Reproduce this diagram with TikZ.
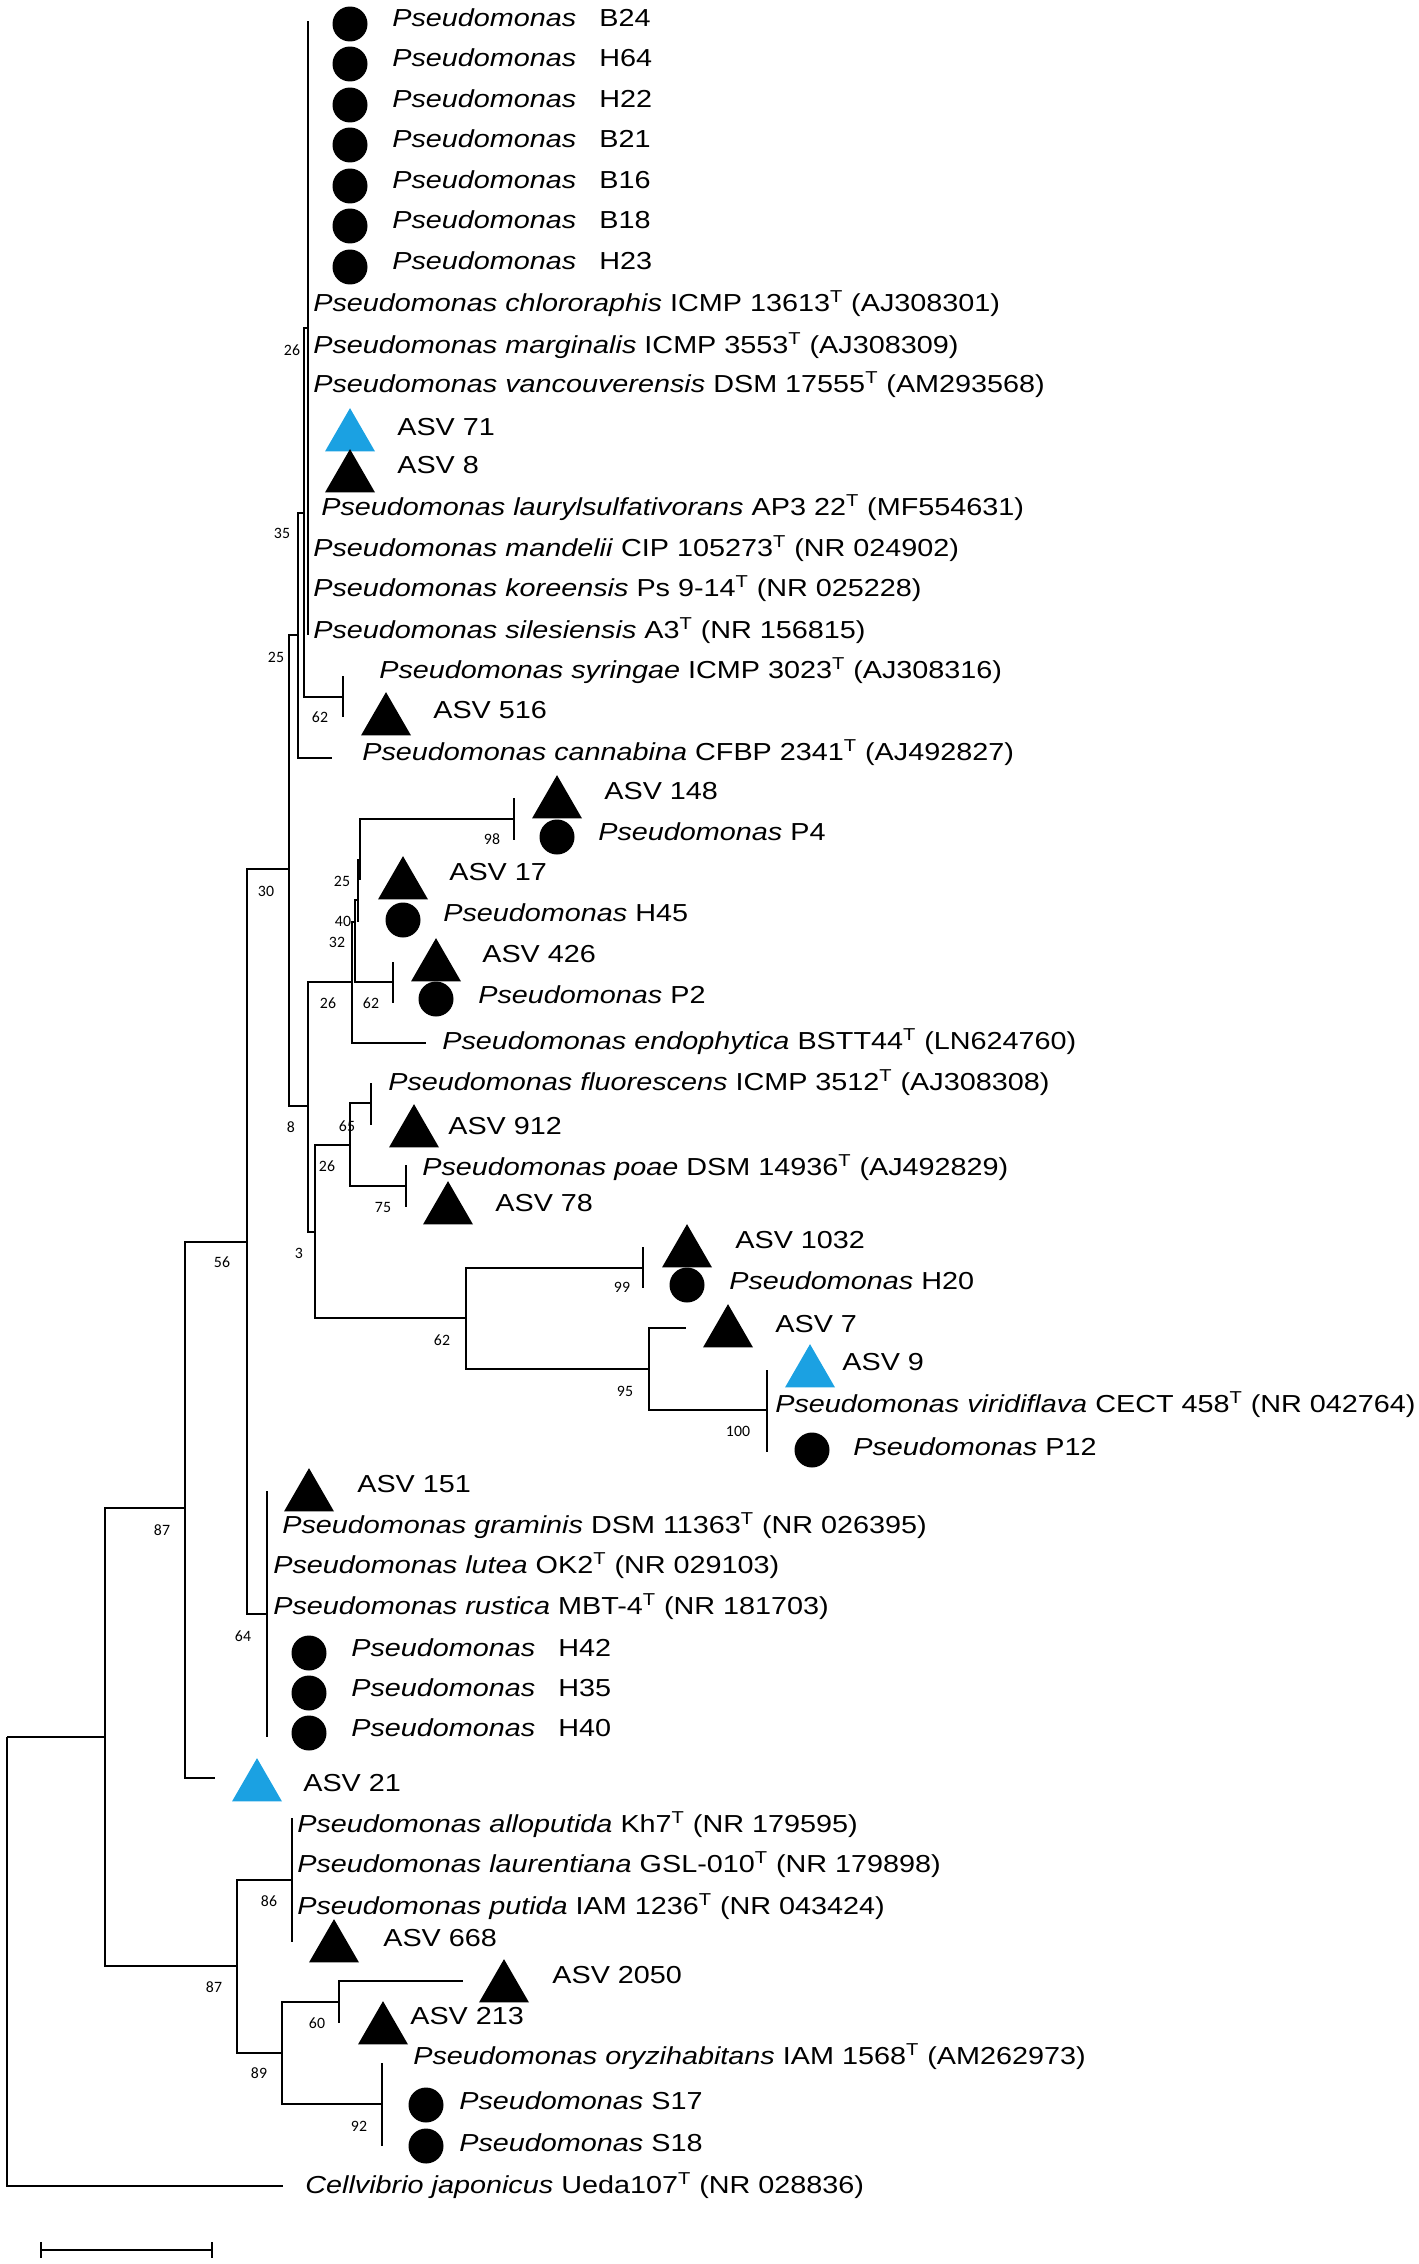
\documentclass[tikz,border=0pt]{standalone}
\usepackage{fontspec}
\setmainfont[FakeStretch=1.17]{Liberation Sans}
\newfontfamily\bootfont{Carlito}
\usetikzlibrary{positioning,shapes.geometric}
\definecolor{asvblue}{RGB}{27,161,226}
\newcommand{\Ps}{\textit{Pseudomonas}}
\newcommand{\species}[1]{\textit{Pseudomonas #1}}
\newcommand{\tp}{\textsuperscript{T}}

\begin{document}
\begin{tikzpicture}
[x=0.02cm, y=-0.02cm,
% branch style is used for every line of the tree
branch/.style={line width=1.1pt},
% taxon style is used for the names of the leaves
taxon/.style={anchor=mid west, inner sep=0pt, yshift=-0.08cm, font=\fontsize{14}{16}\selectfont},
% boot style is used for the bootstrap values
boot/.style={inner sep=0pt, font=\bootfont\fontsize{9}{10}\selectfont},
% isolate and asv styles are used for the markers
isolate/.style={circle, fill=black, minimum size=0.7cm, inner sep=0pt},
asv/.style={regular polygon, regular polygon sides=3, fill=black, minimum size=1.155cm, inner sep=0pt},
asvnew/.style={asv, fill=asvblue}
]
\useasboundingbox (0,0) rectangle (1418,2264);

% Internal nodes
\coordinate (nRoot) at (7,1737);
\coordinate (nIn) at (105,1737);
\coordinate (n87a) at (185,1508);
\coordinate (n87b) at (237,1966);
\coordinate (n56) at (247,1242);
\coordinate (n64) at (267,1614);
\coordinate (n30) at (289,869);
\coordinate (n25a) at (298,635);
\coordinate (n35) at (304,513);
\coordinate (n26a) at (308,328);
\coordinate (n62a) at (343,697);
\coordinate (n8) at (308,1106);
\coordinate (n26b) at (352,982);
\coordinate (n32) at (355,922);
\coordinate (n40) at (358,900);
\coordinate (n25b) at (360,860);
\coordinate (n98) at (514,819);
\coordinate (n62b) at (393,982);
\coordinate (n3) at (315,1232);
\coordinate (n26c) at (350,1145);
\coordinate (n65) at (371,1103);
\coordinate (n75) at (406,1186);
\coordinate (n62c) at (466,1318);
\coordinate (n99) at (643,1268);
\coordinate (n95) at (649,1369);
\coordinate (n100) at (767,1410);
\coordinate (n86) at (292,1880);
\coordinate (n89) at (282,2053);
\coordinate (n60) at (339,2002);
\coordinate (n92) at (382,2104);

% Ends of the leaf branches
\coordinate (eCell) at (283,2186);
\coordinate (eAsv21) at (215,1778);
\coordinate (e64t) at (267,1491);
\coordinate (e64b) at (267,1737);
\coordinate (eCann) at (332,758);
\coordinate (e26t) at (308,21);
\coordinate (e26b) at (308,635);
\coordinate (e62at) at (343,676);
\coordinate (e62ab) at (343,717);
\coordinate (eEndo) at (426,1043);
\coordinate (e40b) at (358,922);
\coordinate (e25b) at (360,880);
\coordinate (e98t) at (514,798);
\coordinate (e98b) at (514,840);
\coordinate (e62bt) at (393,962);
\coordinate (e62bb) at (393,1003);
\coordinate (e65t) at (371,1083);
\coordinate (e65b) at (371,1125);
\coordinate (e75t) at (406,1165);
\coordinate (e75b) at (406,1207);
\coordinate (e99t) at (643,1247);
\coordinate (e99b) at (643,1288);
\coordinate (eAsv7) at (686,1328);
\coordinate (e100t) at (767,1370);
\coordinate (e100b) at (767,1452);
\coordinate (e86t) at (292,1818);
\coordinate (e86b) at (292,1942);
\coordinate (eAsv2050) at (463,1981);
\coordinate (e60b) at (339,2023);
\coordinate (e92t) at (382,2063);
\coordinate (e92b) at (382,2146);

% Draw branches
\foreach \p/\c in {nRoot/nIn, nRoot/eCell, nIn/n87a, nIn/n87b, n87a/n56, n87a/eAsv21,
  n56/n30, n56/n64, n64/e64t, n64/e64b, n30/n25a, n30/n8, n25a/n35, n25a/eCann,
  n35/n26a, n35/n62a, n26a/e26t, n26a/e26b, n62a/e62at, n62a/e62ab,
  n8/n26b, n8/n3, n26b/n32, n26b/eEndo, n32/n40, n32/n62b, n40/n25b, n40/e40b,
  n25b/n98, n25b/e25b, n98/e98t, n98/e98b, n62b/e62bt, n62b/e62bb,
  n3/n26c, n3/n62c, n26c/n65, n26c/n75, n65/e65t, n65/e65b, n75/e75t, n75/e75b,
  n62c/n99, n62c/n95, n99/e99t, n99/e99b, n95/eAsv7, n95/n100, n100/e100t, n100/e100b,
  n87b/n86, n87b/n89, n86/e86t, n86/e86b, n89/n60, n89/n92, n60/eAsv2050, n60/e60b,
  n92/e92t, n92/e92b}
  \draw[branch] (\p) |- (\c);

% Bootstrap values
\node[boot] (b26a) at (292,350) {26};
\node[boot] (b35) at (282,533) {35};
\node[boot] (b25a) at (276,657) {25};
\node[boot] (b62a) at (320,717) {62};
\node[boot] (b30) at (266,891) {30};
\node[boot] (b98) at (492,839) {98};
\node[boot] (b25b) at (342,881) {25};
\node[boot] (b40) at (343,921) {40};
\node[boot] (b32) at (337,942) {32};
\node[boot] (b26b) at (328,1003) {26};
\node[boot] (b62b) at (371,1003) {62};
\node[boot] (b8) at (291,1127) {8};
\node[boot] (b65) at (347,1126) {65};
\node[boot] (b26c) at (327,1166) {26};
\node[boot] (b75) at (383,1207) {75};
\node[boot] (b3) at (299,1253) {3};
\node[boot] (b56) at (222,1262) {56};
\node[boot] (b99) at (622,1287) {99};
\node[boot] (b62c) at (442,1340) {62};
\node[boot] (b95) at (625,1391) {95};
\node[boot] (b100) at (738,1431) {100};
\node[boot] (b87a) at (162,1530) {87};
\node[boot] (b64) at (243,1636) {64};
\node[boot] (b86) at (269,1901) {86};
\node[boot] (b87b) at (214,1987) {87};
\node[boot] (b60) at (317,2023) {60};
\node[boot] (b89) at (259,2073) {89};
\node[boot] (b92) at (359,2126) {92};

% Isolates at the top
\foreach \y/\id in {18/B24, 58/H64, 99/H22, 139/B21, 180/B16, 220/B18, 261/H23}{
  \node[isolate] (m\id) at (350,\y+6) {};
  \node[taxon] (t\id) at (392,\y) {\makebox[4.14cm][l]{\Ps}\id};
}
\node[taxon] (tChloro) at (313,303) {\species{chlororaphis} ICMP 13613\tp{} (AJ308301)};
\node[taxon] (tMargi) at (313,345) {\species{marginalis} ICMP 3553\tp{} (AJ308309)};
\node[taxon] (tVanc) at (313,384) {\species{vancouverensis} DSM 17555\tp{} (AM293568)};
\node[asvnew] (mAsv71) at (350,437) {};
\node[taxon] (tAsv71) at (397,427) {ASV 71};
\node[asv] (mAsv8) at (350,478) {};
\node[taxon] (tAsv8) at (397,465) {ASV 8};
\node[taxon] (tLaury) at (321,507) {\species{laurylsulfativorans} AP3 22\tp{} (MF554631)};
\node[taxon] (tMand) at (313,548) {\species{mandelii} CIP 105273\tp{} (NR 024902)};
\node[taxon] (tKore) at (313,588) {\species{koreensis} Ps 9-14\tp{} (NR 025228)};
\node[taxon] (tSiles) at (313,630) {\species{silesiensis} A3\tp{} (NR 156815)};
\node[taxon] (tSyr) at (379,670) {\species{syringae} ICMP 3023\tp{} (AJ308316)};
\node[asv] (mAsv516) at (386,721) {};
\node[taxon] (tAsv516) at (433,710) {ASV 516};
\node[taxon] (tCann) at (362,752) {\species{cannabina} CFBP 2341\tp{} (AJ492827)};

% Middle part
\node[asv] (mAsv148) at (557,804) {};
\node[taxon] (tAsv148) at (604,791) {ASV 148};
\node[isolate] (mP4) at (557,837) {};
\node[taxon] (tP4) at (598,832) {\Ps{} P4};
\node[asv] (mAsv17) at (403,885) {};
\node[taxon] (tAsv17) at (449,872) {ASV 17};
\node[isolate] (mH45) at (403,920) {};
\node[taxon] (tH45) at (443,913) {\Ps{} H45};
\node[asv] (mAsv426) at (436,967) {};
\node[taxon] (tAsv426) at (482,954) {ASV 426};
\node[isolate] (mP2) at (436,999) {};
\node[taxon] (tP2) at (478,995) {\Ps{} P2};
\node[taxon] (tEndo) at (442,1041) {\species{endophytica} BSTT44\tp{} (LN624760)};
\node[taxon] (tFluo) at (388,1082) {\species{fluorescens} ICMP 3512\tp{} (AJ308308)};
\node[asv] (mAsv912) at (414,1133) {};
\node[taxon] (tAsv912) at (448,1126) {ASV 912};
\node[taxon] (tPoae) at (422,1167) {\species{poae} DSM 14936\tp{} (AJ492829)};
\node[asv] (mAsv78) at (448,1210) {};
\node[taxon] (tAsv78) at (495,1203) {ASV 78};
\node[asv] (mAsv1032) at (687,1253) {};
\node[taxon] (tAsv1032) at (735,1240) {ASV 1032};
\node[isolate] (mH20) at (687,1285) {};
\node[taxon] (tH20) at (729,1281) {\Ps{} H20};
\node[asv] (mAsv7) at (728,1333) {};
\node[taxon] (tAsv7) at (775,1324) {ASV 7};
\node[asvnew] (mAsv9) at (810,1373) {};
\node[taxon] (tAsv9) at (842,1362) {ASV 9};
\node[taxon] (tViri) at (775,1404) {\species{viridiflava} CECT 458\tp{} (NR 042764)};
\node[isolate] (mP12) at (812,1450) {};
\node[taxon] (tP12) at (853,1447) {\Ps{} P12};

% Lower part
\node[asv] (mAsv151) at (309,1497) {};
\node[taxon] (tAsv151) at (357,1484) {ASV 151};
\node[taxon] (tGram) at (282,1525) {\species{graminis} DSM 11363\tp{} (NR 026395)};
\node[taxon] (tLutea) at (273,1565) {\species{lutea} OK2\tp{} (NR 029103)};
\node[taxon] (tRust) at (273,1606) {\species{rustica} MBT-4\tp{} (NR 181703)};
\foreach \y/\id in {1648/H42, 1688/H35, 1728/H40}{
  \node[isolate] (m\id) at (309,\y+5) {};
  \node[taxon] (t\id) at (351,\y) {\makebox[4.14cm][l]{\Ps}\id};
}
\node[asvnew] (mAsv21) at (257,1787) {};
\node[taxon] (tAsv21) at (303,1783) {ASV 21};
\node[taxon] (tAllo) at (297,1824) {\species{alloputida} Kh7\tp{} (NR 179595)};
\node[taxon] (tLaur) at (297,1864) {\species{laurentiana} GSL-010\tp{} (NR 179898)};
\node[taxon] (tPut) at (297,1906) {\species{putida} IAM 1236\tp{} (NR 043424)};
\node[asv] (mAsv668) at (334,1948) {};
\node[taxon] (tAsv668) at (383,1938) {ASV 668};
\node[asv] (mAsv2050) at (504,1988) {};
\node[taxon] (tAsv2050) at (552,1975) {ASV 2050};
\node[asv] (mAsv213) at (383,2030) {};
\node[taxon] (tAsv213) at (410,2016) {ASV 213};
\node[taxon] (tOryz) at (413,2056) {\species{oryzihabitans} IAM 1568\tp{} (AM262973)};
\node[isolate] (mS17) at (426,2105) {};
\node[taxon] (tS17) at (459,2101) {\Ps{} S17};
\node[isolate] (mS18) at (426,2146) {};
\node[taxon] (tS18) at (459,2143) {\Ps{} S18};
\node[taxon] (tCell) at (305,2185) {\textit{Cellvibrio japonicus} Ueda107\tp{} (NR 028836)};

% Scale bar
\coordinate (sbL) at (41,2250);
\coordinate (sbR) at (212,2250);
\draw[branch] (sbL) -- (sbR);
\draw[branch] (sbL) ++(0,-8) -- ++(0,16);
\draw[branch] (sbR) ++(0,-8) -- ++(0,16);
\end{tikzpicture}
\end{document}
